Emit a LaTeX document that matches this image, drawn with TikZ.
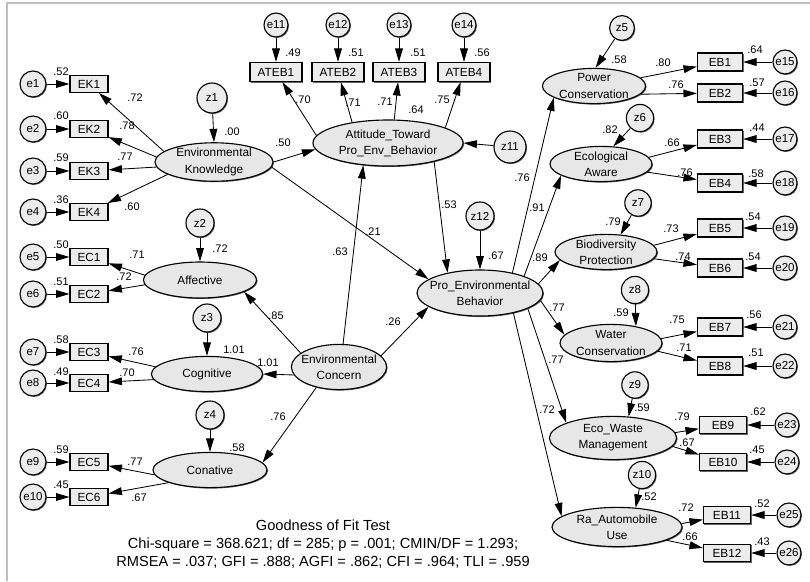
\documentclass[tikz,border=0pt]{standalone}
\usepackage{fontspec}
\setmainfont{Liberation Sans}
\usetikzlibrary{
  arrows.meta,
  shapes.geometric,
  shadows
}
\definecolor{latfill}{RGB}{231,231,231}
\definecolor{obsfill}{RGB}{236,236,236}
\definecolor{framegray}{RGB}{190,190,190}
\definecolor{shadegray}{RGB}{100,100,100}

\begin{document}
\begin{tikzpicture}[x=0.025cm, y=-0.025cm, font=\fontsize{8.4}{11.5}\selectfont]

  \tikzset{
    shade/.style={drop shadow={shadow xshift=0.7pt, shadow yshift=-0.7pt,
      fill=shadegray, opacity=1}},
    latent/.style={
      draw, ellipse, fill=latfill, line width=0.8pt, shade,
      inner xsep=-0.2cm, inner ysep=0pt, align=center
    },
    obs/.style={
      draw, rectangle, fill=obsfill, line width=0.8pt, shade,
      inner sep=0pt, minimum width=0.95cm, minimum height=0.42cm
    },
    err/.style={
      draw, circle, fill=obsfill, line width=0.8pt, shade,
      inner sep=0pt, minimum size=0.65cm, font=\fontsize{8.2}{9}\selectfont
    },
    num/.style={inner sep=0pt, font=\fontsize{7.8}{9}\selectfont},
    arr/.style={-{Triangle[length=9.5pt,width=5.5pt]}, line width=0.6pt}
  }

  \useasboundingbox (0,0) rectangle (810,581);
  \draw[framegray, line width=1.1pt] (7,581) -- (7,3) -- (810,3);

  % ---- Left block: Environmental Knowledge ----
  \node[latent, minimum width=2.95cm, minimum height=0.9cm] (ek) at (214,162)
    {Environmental\\Knowledge};
  \node[err, minimum size=0.75cm] (z1) at (212,98) {z1};

  \node[obs] (ek1) at (89,84) {EK1};
  \node[obs] (ek2) at (89,129) {EK2};
  \node[obs] (ek3) at (89,171) {EK3};
  \node[obs] (ek4) at (89,212) {EK4};
  \node[err] (e1) at (33,84) {e1};
  \node[err] (e2) at (33,129) {e2};
  \node[err] (e3) at (33,171) {e3};
  \node[err] (e4) at (33,212) {e4};

  \draw[arr] (z1) -- (ek.north);
  \draw[arr] (e1) -- (ek1);
  \draw[arr] (e2) -- (ek2);
  \draw[arr] (e3) -- (ek3);
  \draw[arr] (e4) -- (ek4);
  \draw[arr] (ek.168) -- (ek1);
  \draw[arr] (ek.175) -- (ek2);
  \draw[arr] (ek.185) -- (ek3);
  \draw[arr] (ek.195) -- (ek4);

  \node[num] (r-ek1) at (61,72) {.52};
  \node[num] (r-ek2) at (61,116) {.60};
  \node[num] (r-ek3) at (61,158) {.59};
  \node[num] (r-ek4) at (61,200) {.36};
  \node[num] (w-ek1) at (135,98) {.72};
  \node[num] (w-ek2) at (127,126) {.78};
  \node[num] (w-ek3) at (125,157) {.77};
  \node[num] (w-ek4) at (132,207) {.60};
  \node[num] (r-ek) at (232,132) {.00};

  % ---- Left block: Environmental Concern and its three parts ----
  \node[latent, minimum width=2.83cm, minimum height=0.9cm] (aff) at (200,280)
    {Affective};
  \node[latent, minimum width=2.78cm, minimum height=0.88cm] (cog) at (207,374)
    {Cognitive};
  \node[latent, minimum width=2.85cm, minimum height=0.88cm] (con) at (210,470)
    {Conative};
  \node[latent, minimum width=2.38cm, minimum height=1.13cm] (ec) at (339,367)
    {Environmental\\Concern};
  \node[err, minimum size=0.7cm] (z2) at (200,223) {z2};
  \node[err, minimum size=0.7cm] (z3) at (207,318) {z3};
  \node[err, minimum size=0.7cm] (z4) at (210,415) {z4};

  \node[obs] (ec1) at (89,257) {EC1};
  \node[obs] (ec2) at (89,294) {EC2};
  \node[obs] (ec3) at (89,352) {EC3};
  \node[obs] (ec4) at (89,383) {EC4};
  \node[obs] (ec5) at (89,462) {EC5};
  \node[obs] (ec6) at (89,497) {EC6};
  \node[err] (e5) at (33,257) {e5};
  \node[err] (e6) at (33,294) {e6};
  \node[err] (e7) at (33,352) {e7};
  \node[err] (e8) at (33,383) {e8};
  \node[err] (e9) at (33,462) {e9};
  \node[err] (e10) at (33,497) {e10};

  \draw[arr] (z2) -- (aff.north);
  \draw[arr] (z3) -- (cog.north);
  \draw[arr] (z4) -- (con.north);
  \draw[arr] (e5) -- (ec1);
  \draw[arr] (e6) -- (ec2);
  \draw[arr] (e7) -- (ec3);
  \draw[arr] (e8) -- (ec4);
  \draw[arr] (e9) -- (ec5);
  \draw[arr] (e10) -- (ec6);
  \draw[arr] (aff.175) -- (ec1);
  \draw[arr] (aff.185) -- (ec2);
  \draw[arr] (cog.172) -- (ec3);
  \draw[arr] (cog.186) -- (ec4);
  \draw[arr] (con.185) -- (ec5);
  \draw[arr] (con.197) -- (ec6);
  \draw[arr] (ec.160) -- (aff.345);
  \draw[arr] (ec.190) -- (cog.east);
  \draw[arr] (ec.222) -- (con.8);

  \node[num] (r-ec1) at (61,245) {.50};
  \node[num] (r-ec2) at (61,282) {.51};
  \node[num] (r-ec3) at (61,340) {.58};
  \node[num] (r-ec4) at (61,372) {.49};
  \node[num] (r-ec5) at (61,450) {.59};
  \node[num] (r-ec6) at (61,485) {.45};
  \node[num] (w-ec1) at (137,255) {.71};
  \node[num] (w-ec2) at (124,277) {.72};
  \node[num] (w-ec3) at (136,352) {.76};
  \node[num] (w-ec4) at (127,373) {.70};
  \node[num] (w-ec5) at (135,462) {.77};
  \node[num] (w-ec6) at (139,498) {.67};
  \node[num] (r-aff) at (220,249) {.72};
  \node[num] (r-cog) at (234,350) {1.01};
  \node[num] (r-con) at (237,448) {.58};
  \node[num] (w-ec-aff) at (276,316) {.85};
  \node[num] (w-ec-cog) at (268,363) {1.01};
  \node[num] (w-ec-con) at (278,417) {.76};

  % ---- Top block: attitude ----
  \node[latent, minimum width=3.75cm, minimum height=1.15cm] (att) at (388,143)
    {Attitude\_Toward\\Pro\_Env\_Behavior};
  \node[err, minimum size=0.8cm] (z11) at (510,147) {z11};

  \node[obs, minimum width=1.3cm, minimum height=0.48cm] (ateb1) at (276,72) {ATEB1};
  \node[obs, minimum width=1.3cm, minimum height=0.48cm] (ateb2) at (338,72) {ATEB2};
  \node[obs, minimum width=1.3cm, minimum height=0.48cm] (ateb3) at (399,72) {ATEB3};
  \node[obs, minimum width=1.3cm, minimum height=0.48cm] (ateb4) at (464,72) {ATEB4};
  \node[err, minimum size=0.6cm] (e11) at (276,25) {e11};
  \node[err, minimum size=0.6cm] (e12) at (338,25) {e12};
  \node[err, minimum size=0.6cm] (e13) at (399,25) {e13};
  \node[err, minimum size=0.6cm] (e14) at (464,25) {e14};

  \draw[arr] (z11) -- (att.east);
  \draw[arr] (e11) -- (ateb1);
  \draw[arr] (e12) -- (ateb2);
  \draw[arr] (e13) -- (ateb3);
  \draw[arr] (e14) -- (ateb4);
  \draw[arr] (att.174) -- (ateb1);
  \draw[arr] (att.150) -- (ateb2);
  \draw[arr] (att.75) -- (ateb3);
  \draw[arr] (att.15) -- (ateb4);

  \node[num] (r-ateb1) at (293,53) {.49};
  \node[num] (r-ateb2) at (356,53) {.51};
  \node[num] (r-ateb3) at (418,53) {.51};
  \node[num] (r-ateb4) at (482,53) {.56};
  \node[num] (w-ateb1) at (303,100) {.70};
  \node[num] (w-ateb2) at (353,103) {.71};
  \node[num] (w-ateb3) at (385,102) {.71};
  \node[num] (w-ateb4) at (442,100) {.75};
  \node[num] (r-att) at (416,110) {.64};

  % ---- Center: pro-environmental behavior ----
  \node[latent, minimum width=3.15cm, minimum height=1.15cm] (peb) at (480,293)
    {Pro\_Environmental\\Behavior};
  \node[err, minimum size=0.7cm] (z12) at (480,216) {z12};

  \draw[arr] (z12) -- (peb.north);
  \draw[arr] (ek.east) -- (att.185);
  \draw[arr] (ek.355) -- (peb.165);
  \draw[arr] (ec.80) -- (att.222);
  \draw[arr] (ec.15) -- (peb.195);
  \draw[arr] (att.338) -- (peb.148);

  \node[num] (w-ek-att) at (283,143) {.50};
  \node[num] (w-ek-peb) at (373,232) {.21};
  \node[num] (w-ec-att) at (340,252) {.63};
  \node[num] (w-ec-peb) at (393,322) {.26};
  \node[num] (w-att-peb) at (449,205) {.53};
  \node[num] (r-peb) at (496,256) {.67};

  % ---- Right block: six behavior factors ----
  \node[latent, minimum width=2.58cm, minimum height=0.88cm] (pc) at (594,86)
    {Power\\Conservation};
  \node[latent, minimum width=2.55cm, minimum height=0.88cm] (ea) at (601,164)
    {Ecological\\Aware};
  \node[latent, minimum width=2.55cm, minimum height=0.88cm] (bp) at (606,252)
    {Biodiversity\\Protection};
  \node[latent, minimum width=2.55cm, minimum height=0.93cm] (wc) at (611,343)
    {Water\\Conservation};
  \node[latent, minimum width=3.18cm, minimum height=1.08cm] (ewm) at (613,438)
    {Eco\_Waste\\Management};
  \node[latent, minimum width=3.25cm, minimum height=0.98cm] (rau) at (617,527)
    {Ra\_Automobile\\Use};

  \node[err, minimum size=0.62cm] (z5) at (622,28) {z5};
  \node[err, minimum size=0.68cm] (z6) at (640,118) {z6};
  \node[err, minimum size=0.66cm] (z7) at (638,203) {z7};
  \node[err, minimum size=0.68cm] (z8) at (635,290) {z8};
  \node[err, minimum size=0.66cm] (z9) at (635,385) {z9};
  \node[err, minimum size=0.68cm] (z10) at (642,475) {z10};

  \draw[arr] (z5) -- (pc.85);
  \draw[arr] (z6) -- (ea.55);
  \draw[arr] (z7) -- (bp.50);
  \draw[arr] (z8) -- (wc.34);
  \draw[arr] (z9) -- (ewm.54);
  \draw[arr] (z10) -- (rau.46);

  \draw[arr] (peb.32) -- (pc.196);
  \draw[arr] (peb.21) -- (ea.196);
  \draw[arr] (peb.9) -- (bp.190);
  \draw[arr] (peb.353) -- (wc.170);
  \draw[arr] (peb.342) -- (ewm.162);
  \draw[arr] (peb.329) -- (rau.169);

  \node[num] (w-peb-pc) at (522,178) {.76};
  \node[num] (w-peb-ea) at (537,208) {.91};
  \node[num] (w-peb-bp) at (540,258) {.89};
  \node[num] (w-peb-wc) at (557,308) {.77};
  \node[num] (w-peb-ewm) at (556,360) {.77};
  \node[num] (w-peb-rau) at (547,410) {.72};
  \node[num] (r-pc) at (619,60) {.58};
  \node[num] (r-ea) at (610,130) {.82};
  \node[num] (r-bp) at (613,222) {.79};
  \node[num] (r-wc) at (621,313) {.59};
  \node[num] (r-ewm) at (642,408) {.59};
  \node[num] (r-rau) at (649,497) {.52};

  % indicators EB1 - EB12
  \node[obs, minimum width=1.13cm, minimum height=0.45cm] (eb1) at (720,62) {EB1};
  \node[obs, minimum width=1.13cm, minimum height=0.45cm] (eb2) at (720,93) {EB2};
  \node[obs, minimum width=1.13cm, minimum height=0.45cm] (eb3) at (720,139) {EB3};
  \node[obs, minimum width=1.13cm, minimum height=0.45cm] (eb4) at (720,183) {EB4};
  \node[obs, minimum width=1.13cm, minimum height=0.45cm] (eb5) at (720,228) {EB5};
  \node[obs, minimum width=1.13cm, minimum height=0.45cm] (eb6) at (720,268) {EB6};
  \node[obs, minimum width=1.13cm, minimum height=0.45cm] (eb7) at (720,327) {EB7};
  \node[obs, minimum width=1.13cm, minimum height=0.45cm] (eb8) at (720,366) {EB8};
  \node[obs, minimum width=1.18cm, minimum height=0.43cm] (eb9) at (723,425) {EB9};
  \node[obs, minimum width=1.18cm, minimum height=0.43cm] (eb10) at (723,462) {EB10};
  \node[obs, minimum width=1.18cm, minimum height=0.43cm] (eb11) at (727,515) {EB11};
  \node[obs, minimum width=1.18cm, minimum height=0.43cm] (eb12) at (727,553) {EB12};

  \node[err, minimum size=0.6cm] (e15) at (785,62) {e15};
  \node[err, minimum size=0.6cm] (e16) at (785,93) {e16};
  \node[err, minimum size=0.6cm] (e17) at (785,139) {e17};
  \node[err, minimum size=0.6cm] (e18) at (785,183) {e18};
  \node[err, minimum size=0.6cm] (e19) at (785,228) {e19};
  \node[err, minimum size=0.6cm] (e20) at (785,268) {e20};
  \node[err, minimum size=0.6cm] (e21) at (785,327) {e21};
  \node[err, minimum size=0.6cm] (e22) at (785,366) {e22};
  \node[err, minimum size=0.6cm] (e23) at (787,425) {e23};
  \node[err, minimum size=0.6cm] (e24) at (787,462) {e24};
  \node[err, minimum size=0.6cm] (e25) at (789,515) {e25};
  \node[err, minimum size=0.6cm] (e26) at (789,553) {e26};

  \draw[arr] (pc.10) -- (eb1);
  \draw[arr] (pc.350) -- (eb2);
  \draw[arr] (ea.8) -- (eb3);
  \draw[arr] (ea.350) -- (eb4);
  \draw[arr] (bp.8) -- (eb5);
  \draw[arr] (bp.352) -- (eb6);
  \draw[arr] (wc.5) -- (eb7);
  \draw[arr] (wc.350) -- (eb8);
  \draw[arr] (ewm.5) -- (eb9);
  \draw[arr] (ewm.352) -- (eb10);
  \draw[arr] (rau.3) -- (eb11);
  \draw[arr] (rau.345) -- (eb12);

  \draw[arr] (e15) -- (eb1);
  \draw[arr] (e16) -- (eb2);
  \draw[arr] (e17) -- (eb3);
  \draw[arr] (e18) -- (eb4);
  \draw[arr] (e19) -- (eb5);
  \draw[arr] (e20) -- (eb6);
  \draw[arr] (e21) -- (eb7);
  \draw[arr] (e22) -- (eb8);
  \draw[arr] (e23) -- (eb9);
  \draw[arr] (e24) -- (eb10);
  \draw[arr] (e25) -- (eb11);
  \draw[arr] (e26) -- (eb12);

  \node[num] (w-eb1) at (663,63) {.80};
  \node[num] (w-eb2) at (676,85) {.76};
  \node[num] (w-eb3) at (672,143) {.66};
  \node[num] (w-eb4) at (685,173) {.76};
  \node[num] (w-eb5) at (671,229) {.73};
  \node[num] (w-eb6) at (683,257) {.74};
  \node[num] (w-eb7) at (677,320) {.75};
  \node[num] (w-eb8) at (684,348) {.71};
  \node[num] (w-eb9) at (682,417) {.79};
  \node[num] (w-eb10) at (687,443) {.67};
  \node[num] (w-eb11) at (686,508) {.72};
  \node[num] (w-eb12) at (690,537) {.66};

  \node[num] (r-eb1) at (755,50) {.64};
  \node[num] (r-eb2) at (757,83) {.57};
  \node[num] (r-eb3) at (757,128) {.44};
  \node[num] (r-eb4) at (756,174) {.58};
  \node[num] (r-eb5) at (753,217) {.54};
  \node[num] (r-eb6) at (753,257) {.54};
  \node[num] (r-eb7) at (754,315) {.56};
  \node[num] (r-eb8) at (756,353) {.51};
  \node[num] (r-eb9) at (758,412) {.62};
  \node[num] (r-eb10) at (757,450) {.45};
  \node[num] (r-eb11) at (762,504) {.52};
  \node[num] (r-eb12) at (762,542) {.43};

  % ---- Fit indices ----
  \node[align=center, inner sep=0pt, font=\fontsize{10.4}{12.9}\selectfont] (fit) at (323,544)
    {Goodness of Fit Test\\
     Chi-square = 368.621; df = 285; p = .001; CMIN/DF = 1.293;\\
     RMSEA = .037; GFI = .888; AGFI = .862; CFI = .964; TLI = .959};

\end{tikzpicture}
\end{document}
